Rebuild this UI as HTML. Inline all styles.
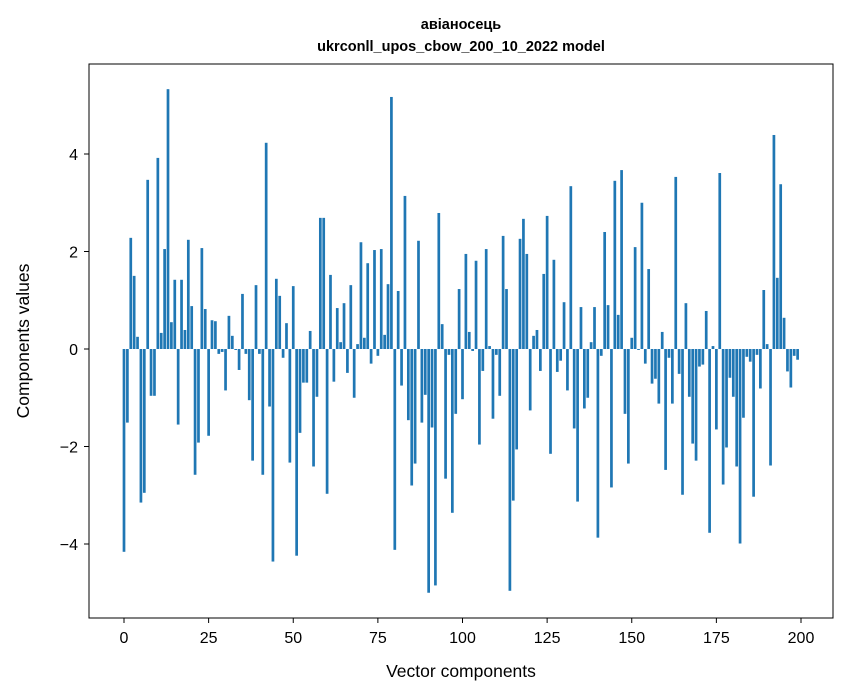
<!DOCTYPE html>
<html><head><meta charset="utf-8"><style>
body{margin:0;background:#fff;}
svg{display:block;font-family:"Liberation Sans","DejaVu Sans",sans-serif;}
</style></head><body>
<svg id="chart" width="847" height="696" viewBox="0 0 847 696" xmlns="http://www.w3.org/2000/svg">
<rect width="847" height="696" fill="#fff"/>
<text x="461" y="29" text-anchor="middle" font-size="14.5" font-weight="bold">авіаносець</text>
<text x="461" y="51" text-anchor="middle" font-size="14.5" font-weight="bold">ukrconll_upos_cbow_200_10_2022 model</text>
<g id="bars"></g>
<g id="axes"></g>
<rect x="89" y="64" width="744" height="554" fill="none" stroke="#000" stroke-width="1"/>
<text x="461" y="677" text-anchor="middle" font-size="17.5">Vector components</text>
<text transform="translate(29,341) rotate(-90)" text-anchor="middle" font-size="17.5">Components values</text>
</svg>
<script>
const values = [-4.16,-1.51,2.28,1.50,0.25,-3.15,-2.95,3.47,-0.96,-0.96,3.92,0.33,2.05,5.33,0.55,1.42,-1.55,1.42,0.39,2.24,0.88,-2.58,-1.92,2.07,0.82,
-1.78,0.59,0.57,-0.10,-0.06,-0.85,0.68,0.27,-0.02,-0.43,1.13,-0.10,-1.05,-2.29,1.31,-0.10,-2.58,4.23,-1.18,-4.36,1.44,1.09,-0.18,0.53,-2.33,
1.29,-4.24,-1.72,-0.69,-0.69,0.37,-2.41,-0.98,2.69,2.69,-2.97,1.52,-0.67,0.84,0.14,0.94,-0.49,1.31,-1.00,0.10,2.19,0.23,1.76,-0.30,2.03,
-0.14,2.05,0.29,1.33,5.17,-4.12,1.19,-0.75,3.14,-1.46,-2.80,-2.35,2.22,-1.51,-0.94,-5.0,-1.61,-4.85,2.79,0.51,-2.66,-0.12,-3.36,-1.33,1.23,
-1.03,1.95,0.35,-0.04,1.81,-1.96,-0.45,2.05,0.06,-1.43,-0.12,-0.96,2.32,1.23,-4.96,-3.11,-2.06,2.26,2.67,1.95,-1.26,0.27,0.39,-0.45,1.54,
2.73,-2.15,1.83,-0.47,-0.24,0.96,-0.85,3.34,-1.63,-3.13,0.86,-1.22,-1.00,0.14,0.86,-3.87,-0.14,2.40,0.90,-2.84,3.45,0.70,3.67,-1.33,-2.35,
0.23,2.09,-0.02,3.00,-0.30,1.64,-0.71,-0.61,-1.12,0.35,-2.48,-0.18,-1.12,3.53,-0.51,-2.99,0.94,-0.98,-1.94,-2.29,-0.36,-0.32,0.78,-3.77,0.06,
-1.65,3.61,-2.78,-2.02,-0.59,-0.98,-2.41,-3.99,-1.41,-0.16,-0.26,-3.03,-0.12,-0.81,1.21,0.10,-2.39,4.39,1.46,3.38,0.64,-0.46,-0.79,-0.14,-0.22];
const xTicks = [0,25,50,75,100,125,150,175,200];
const yTicks = [-4,-2,0,2,4];
const NS="http://www.w3.org/2000/svg";
function xs(v){return 124 + v*(677/200);}
function ys(v){return 349 - v*48.75;}
const bars=document.getElementById('bars');
values.forEach((v,i)=>{
  const r=document.createElementNS(NS,'rect');
  const x0=xs(i-0.4), x1=xs(i+0.4);
  const y0=ys(Math.max(v,0)), y1=ys(Math.min(v,0));
  r.setAttribute('x',x0);r.setAttribute('width',x1-x0);
  r.setAttribute('y',y0);r.setAttribute('height',Math.max(y1-y0,0.3));
  r.setAttribute('fill','#1f77b4');
  
  
  bars.appendChild(r);
});
const axes=document.getElementById('axes');
xTicks.forEach(t=>{
  const l=document.createElementNS(NS,'line');
  l.setAttribute('x1',xs(t));l.setAttribute('x2',xs(t));l.setAttribute('y1',618);l.setAttribute('y2',623);l.setAttribute('stroke','#000');
  
  
  axes.appendChild(l);
  const s=document.createElementNS(NS,'text');
  s.setAttribute('x',xs(t));s.setAttribute('y',643);s.setAttribute('text-anchor','middle');s.setAttribute('font-size','16');
  s.textContent=t;
  
  
  axes.appendChild(s);
});
yTicks.forEach(t=>{
  const l=document.createElementNS(NS,'line');
  l.setAttribute('x1',84);l.setAttribute('x2',89);l.setAttribute('y1',ys(t));l.setAttribute('y2',ys(t));l.setAttribute('stroke','#000');
  
  
  axes.appendChild(l);
  const s=document.createElementNS(NS,'text');
  s.setAttribute('x',78);s.setAttribute('y',ys(t)+6);s.setAttribute('text-anchor','end');s.setAttribute('font-size','16');
  s.textContent=t<0?'\u2212'+Math.abs(t):String(t);
  
  
  axes.appendChild(s);
});
</script>
</body></html>
